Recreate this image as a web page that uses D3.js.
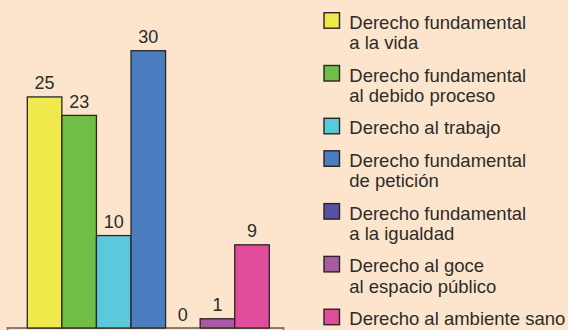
<!DOCTYPE html>
<html>
<head>
<meta charset="utf-8">
<script src="https://cdn.jsdelivr.net/npm/d3@7/dist/d3.min.js"></script>
<style>
  html, body { margin: 0; padding: 0; background: #fde5cd; }
  svg { display: block; }
  text { font-family: "Liberation Sans", Arial, Helvetica, sans-serif; fill: #2e2b28; }
</style>
</head>
<body>
<svg id="chart" width="568" height="330"></svg>
<script>
// Number of cases per right
const categories = [
  "Derecho fundamental a la vida",
  "Derecho fundamental al debido proceso",
  "Derecho al trabajo",
  "Derecho fundamental de petición",
  "Derecho fundamental a la igualdad",
  "Derecho al goce al espacio público",
  "Derecho al ambiente sano"
];
const values = [25, 23, 10, 30, 0, 1, 9];
const colors = ["#efe94b", "#6fbe45", "#5bc9dc", "#4a7ec0", "#5b4fa3", "#a95aa5", "#e14c9b"];
// Legend entries split into display lines
const legendLines = [
  ["Derecho fundamental", "a la vida"],
  ["Derecho fundamental", "al debido proceso"],
  ["Derecho al trabajo"],
  ["Derecho fundamental", "de petición"],
  ["Derecho fundamental", "a la igualdad"],
  ["Derecho al goce", "al espacio público"],
  ["Derecho al ambiente sano"]
];

const svg = d3.select("#chart");

const x = d3.scaleBand().domain(categories).range([27.3, 269.3]).padding(0);
const y = d3.scaleLinear().domain([0, 30]).range([328, 50.7]);

// Base frame under the bars
svg.append("rect")
  .attr("x", 7.5).attr("y", 328)
  .attr("width", 276).attr("height", 20)
  .attr("fill", "none")
  .attr("stroke", "#8c7c6c")
  .attr("stroke-width", 2);

// Bars
svg.append("g").selectAll("rect")
  .data(categories.map((c, i) => ({ c, v: values[i], col: colors[i] })).filter(d => d.v > 0))
  .join("rect")
  .attr("x", d => x(d.c))
  .attr("y", d => y(d.v))
  .attr("width", x.bandwidth())
  .attr("height", d => y(0) - y(d.v))
  .attr("fill", d => d.col)
  .attr("stroke", "#2a2622")
  .attr("stroke-width", 1.3);

// Value labels
svg.append("g").selectAll("text")
  .data(categories.map((c, i) => ({ c, v: values[i] })))
  .join("text")
  .attr("x", d => x(d.c) + x.bandwidth() / 2)
  .attr("y", d => y(d.v) - 7.5)
  .attr("text-anchor", "middle")
  .style("font-size", "18px")
  .text(d => d.v);

// Legend
const legend = svg.append("g");
let baseY = 28.7;
legendLines.forEach((lines, i) => {
  const g = legend.append("g");
  g.append("rect")
    .attr("x", 324).attr("y", baseY - 16)
    .attr("width", 15.5).attr("height", 15.5)
    .attr("fill", colors[i])
    .attr("stroke", "#2a2622")
    .attr("stroke-width", 1.4);
  lines.forEach((t, j) => {
    g.append("text")
      .attr("x", 349.3)
      .attr("y", baseY + j * 20.3)
      .style("font-size", "18.5px")
      .text(t);
  });
  baseY += (lines.length - 1) * 20.3 + 32.5;
});
</script>
</body>
</html>
